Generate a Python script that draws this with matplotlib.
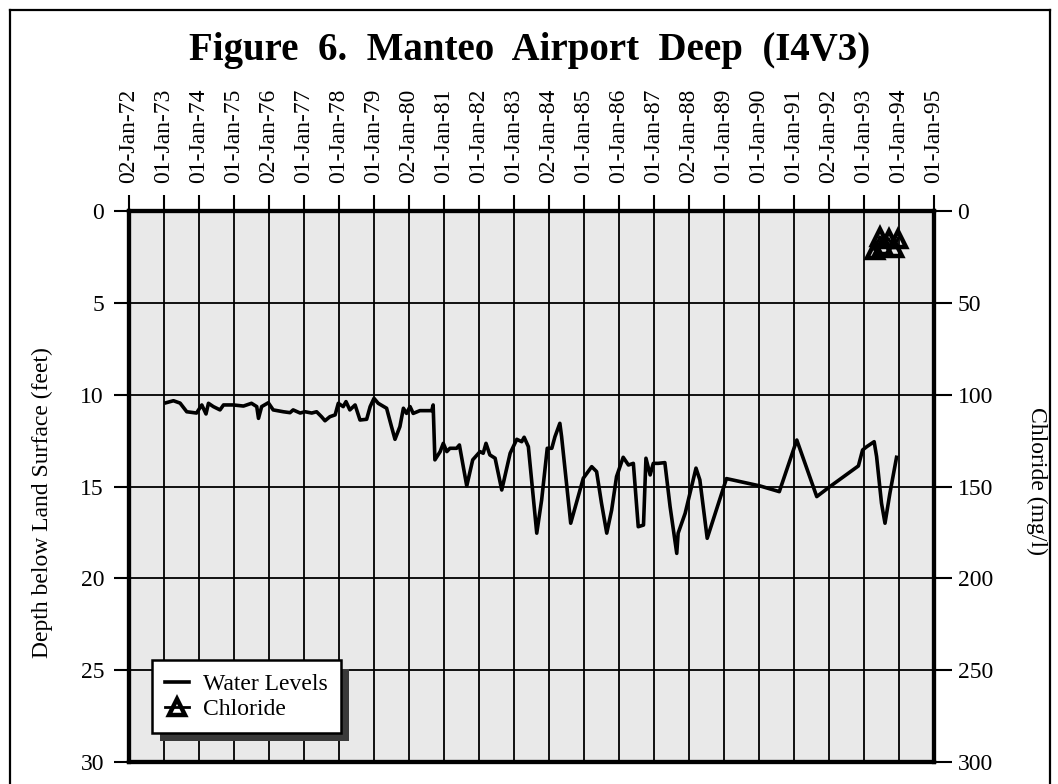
import matplotlib
matplotlib.use("Agg")
import matplotlib.pyplot as plt
import matplotlib.patheffects as pe
from matplotlib.lines import Line2D

plt.rcParams['font.family'] = ['Liberation Serif', 'DejaVu Serif']

# water levels, depth below land surface (feet), by decimal year
water_years = [1973.06, 1973.27, 1973.46, 1973.65, 1973.93, 1974.08, 1974.20, 1974.27, 1974.41, 1974.60,
               1974.70, 1974.98, 1975.27, 1975.50, 1975.65, 1975.70, 1975.79, 1975.98, 1976.12, 1976.41,
               1976.60, 1976.69, 1976.89, 1977.03, 1977.22, 1977.36, 1977.50, 1977.60, 1977.74, 1977.89,
               1977.98, 1978.12, 1978.20, 1978.31, 1978.46, 1978.60, 1978.79, 1978.89, 1979.00, 1979.12,
               1979.36, 1979.50, 1979.60, 1979.74, 1979.84, 1979.93, 1980.03, 1980.12, 1980.31, 1980.65,
               1980.69, 1980.74, 1980.89, 1980.98, 1981.08, 1981.17, 1981.36, 1981.44, 1981.65, 1981.82,
               1982.03, 1982.12, 1982.20, 1982.31, 1982.46, 1982.65, 1982.89, 1983.08, 1983.22, 1983.29,
               1983.41, 1983.65, 1983.79, 1983.95, 1984.08, 1984.17, 1984.31, 1984.36, 1984.62, 1984.98,
               1985.22, 1985.36, 1985.50, 1985.65, 1985.79, 1985.93, 1986.12, 1986.27, 1986.41, 1986.55,
               1986.70, 1986.77, 1986.89, 1986.98, 1987.12, 1987.31, 1987.46, 1987.65, 1987.69, 1987.89,
               1988.20, 1988.31, 1988.52, 1989.07, 1990.03, 1990.58, 1991.08, 1991.65, 1992.03, 1992.84,
               1992.96, 1993.08, 1993.29, 1993.36, 1993.50, 1993.60, 1993.74, 1993.93]
water_depth = [10.44, 10.33, 10.46, 10.93, 11.00, 10.56, 11.05, 10.47, 10.65, 10.83,
               10.56, 10.56, 10.62, 10.47, 10.65, 11.29, 10.65, 10.44, 10.83, 10.93,
               10.98, 10.83, 11.00, 10.93, 11.00, 10.93, 11.20, 11.42, 11.20, 11.10,
               10.47, 10.65, 10.38, 10.83, 10.56, 11.38, 11.34, 10.65, 10.20, 10.47,
               10.74, 11.74, 12.43, 11.74, 10.74, 11.02, 10.65, 11.02, 10.87, 10.87,
               10.56, 13.55, 13.10, 12.65, 13.10, 12.92, 12.92, 12.74, 14.97, 13.55,
               13.10, 13.19, 12.65, 13.28, 13.46, 15.19, 13.19, 12.43, 12.56, 12.32,
               12.83, 17.54, 15.73, 12.92, 12.92, 12.29, 11.56, 12.29, 17.00, 14.55,
               13.92, 14.19, 15.91, 17.54, 16.28, 14.46, 13.41, 13.83, 13.74, 17.19,
               17.10, 13.46, 14.37, 13.74, 13.74, 13.70, 16.10, 18.64, 17.54, 16.46,
               14.00, 14.64, 17.82, 14.57, 14.97, 15.28, 12.47, 15.55, 15.00, 13.88,
               13.01, 12.83, 12.56, 13.37, 15.91, 17.00, 15.37, 13.41]

# chloride (mg/l)
chloride_years = [1993.30, 1993.45, 1993.55, 1993.70, 1993.85, 1993.97]
chloride_vals = [21, 14, 19, 15, 20, 15]

tick_years = list(range(1972, 1996))
tick_labels = ["02-Jan-72", "01-Jan-73", "01-Jan-74", "01-Jan-75", "02-Jan-76", "01-Jan-77",
               "01-Jan-78", "01-Jan-79", "02-Jan-80", "01-Jan-81", "01-Jan-82", "01-Jan-83",
               "02-Jan-84", "01-Jan-85", "01-Jan-86", "01-Jan-87", "02-Jan-88", "01-Jan-89",
               "01-Jan-90", "01-Jan-91", "02-Jan-92", "01-Jan-93", "01-Jan-94", "01-Jan-95"]

fig = plt.figure(figsize=(10.58, 7.84), dpi=100)
ax = fig.add_axes([129 / 1058, 22 / 784, 805 / 1058, 551 / 784])
ax.set_facecolor('#e9e9e9')

wl, = ax.plot(water_years, water_depth, color='black', lw=2.6, label='Water Levels')
ax.set_xlim(1972, 1995)
ax.set_ylim(30, 0)
ax.set_xticks(tick_years)
ax.set_xticklabels(tick_labels, rotation=90)
ax.xaxis.tick_top()
ax.tick_params(axis='x', top=True, bottom=False, direction='out', length=11.5, width=1.5,
               pad=9, labelsize=17)
ax.set_yticks(range(0, 31, 5))
ax.tick_params(axis='y', direction='out', length=11, width=1.5, pad=7, labelsize=17)
ax.grid(True, color='black', lw=1.3)
ax.set_axisbelow(True)
for s in ax.spines.values():
    s.set_linewidth(3)
ax.set_ylabel('Depth below Land Surface (feet)', fontsize=17)
ax.yaxis.set_label_coords(-0.094, 0.47)

ax2 = ax.twinx()
cl, = ax2.plot(chloride_years, chloride_vals, color='black', lw=2, marker='^', ms=12,
               mfc='none', mec='black', mew=3.2, label='Chloride')
ax2.set_ylim(300, 0)
ax2.set_yticks(range(0, 301, 50))
ax2.tick_params(axis='y', direction='out', length=13, width=1.5, pad=4, labelsize=17)
for s in ax2.spines.values():
    s.set_linewidth(3)
ax2.set_ylabel('Chloride (mg/l)', fontsize=17, rotation=270, va='center')
ax2.yaxis.set_label_coords(1.128, 0.51)

leg = ax2.legend([wl, cl], ['Water Levels', 'Chloride'], loc='lower left',
                 bbox_to_anchor=(0.0286, 0.0526), borderaxespad=0, fancybox=False,
                 framealpha=1, edgecolor='black', fontsize=17, handlelength=1.0,
                 handletextpad=0.6, borderpad=0.55, labelspacing=0.15)
leg.get_frame().set_linewidth(1.8)
leg.get_frame().set_path_effects([pe.SimplePatchShadow(offset=(6, -6), shadow_rgbFace='#3a3a3a', alpha=1),
                                  pe.Normal()])

fig.text(530 / 1058, 1 - 60 / 784, 'Figure  6.  Manteo  Airport  Deep  (I4V3)',
         ha='center', va='baseline', fontsize=28, fontweight='bold')

# page border
fig.add_artist(Line2D([10 / 1058, 10 / 1058], [0, 1 - 10 / 784], color='black', lw=1.6))
fig.add_artist(Line2D([10 / 1058, 1050 / 1058], [1 - 10 / 784, 1 - 10 / 784], color='black', lw=1.6))
fig.add_artist(Line2D([1050 / 1058, 1050 / 1058], [0, 1 - 10 / 784], color='black', lw=1.6))

plt.savefig('out.png', dpi=100)
